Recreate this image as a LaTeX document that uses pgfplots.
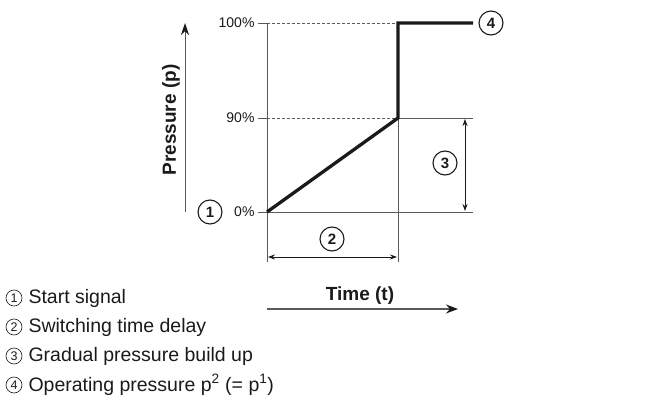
\documentclass[border=0pt]{standalone}
\usepackage{fontspec}
\setmainfont{Liberation Sans}
\usepackage{pgfplots}
\pgfplotsset{compat=1.18}
\usetikzlibrary{arrows.meta}
\definecolor{ln}{HTML}{5A5A5A}
\definecolor{ink}{HTML}{1A1A1A}
\begin{document}
\begin{tikzpicture}
\path[use as bounding box] (0,0) rectangle (656pt,405pt);
\begin{scope}[x=1pt,y=-1pt,shift={(0,405pt)}]
  % frame lines
  \draw[ln, line width=0.8pt] (267,23) -- (267,262);
  \draw[ln, line width=0.8pt] (267,212) -- (473,212);
  \draw[ln, line width=0.8pt] (398,23) -- (398,262);
  \draw[ln, line width=0.6pt, dash pattern=on 3pt off 2pt] (267,23) -- (398,23);
  \draw[ln, line width=0.6pt, dash pattern=on 3pt off 2pt] (267,118) -- (398,118);
  \draw[ln, line width=0.8pt] (398,118) -- (473,118);
  % dimension arrows
  \draw[ink, line width=0.8pt, {Stealth[length=7pt,width=5pt]}-{Stealth[length=7pt,width=5pt]}] (465,119) -- (465,211);
  \draw[ink, line width=0.8pt, {Stealth[length=7pt,width=5pt]}-{Stealth[length=7pt,width=5pt]}] (268,257) -- (397,257);
  % circled numbers
  \foreach \px/\py/\n in {445/163/3, 491/23/4, 332/239/2, 210/212/1}
    \node[circle, draw=ink, line width=1.1pt, minimum size=24pt, inner sep=0pt, text=ink,
          font=\bfseries\fontsize{15}{15}\selectfont] at (\px,\py) {\n};
  % pressure arrow
  \draw[ln, line width=1pt, -{Stealth[length=12pt,width=8pt,color=ink]}] (185,212) -- (185,23);
  \node[rotate=90, font=\bfseries\fontsize{19}{19}\selectfont, text=ink] at (171,120) {Pressure (p)};
  % time arrow
  \draw[ln, line width=1.5pt, -{Stealth[length=12pt,width=9pt,color=ink]}] (267,309) -- (458,309);
  \node[font=\bfseries\fontsize{19}{19}\selectfont, text=ink] at (360,296) {Time (t)};
  % legend
  \foreach \py/\n/\t in {298/1/Start signal, 327/2/Switching time delay, 356/3/Gradual pressure build up}{
    \node[circle, draw=ink, line width=0.6pt, minimum size=16pt, inner sep=0pt, text=ink,
          font=\fontsize{12.5}{12.5}\selectfont] at (14,\py) {\n};
    \node[anchor=west, font=\fontsize{19.5}{19.5}\selectfont, text=ink] at (25,\py) {\t};
  }
  \node[circle, draw=ink, line width=0.6pt, minimum size=16pt, inner sep=0pt, text=ink,
        font=\fontsize{12.5}{12.5}\selectfont] at (14,385) {4};
  \node[anchor=west, font=\fontsize{19.5}{19.5}\selectfont, text=ink] at (25,385) {Operating pressure p\textsuperscript{2} (= p\textsuperscript{1})};
\end{scope}
\begin{axis}[
  at={(267pt,193pt)}, anchor=south west,
  scale only axis, width=206pt, height=189pt,
  xmin=0, xmax=206, ymin=0, ymax=189,
  axis x line=none, axis y line*=left,
  y axis line style={draw=none,-},
  ytick={0,94,189}, yticklabels={0\%,90\%,100\%},
  ytick style={ln, line width=0.8pt},
  tick align=outside, major tick length=9pt,
  yticklabel style={font=\fontsize{14}{16}\selectfont, text=ink},
  clip=false,
]
\addplot[ink, line width=3.3pt, line join=miter, mark=none] coordinates {(0,0) (131,94) (131,189) (206,189)};
\end{axis}
\end{tikzpicture}
\end{document}
